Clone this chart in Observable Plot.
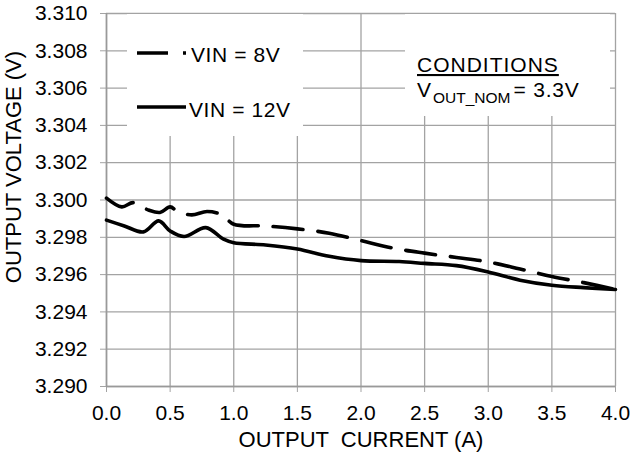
<!DOCTYPE html>
<html>
<head>
<meta charset="utf-8">
<script src="https://cdn.jsdelivr.net/npm/d3@7"></script>
<script src="https://cdn.jsdelivr.net/npm/@observablehq/plot@0.6"></script>
<style>
  html, body { margin: 0; padding: 0; background: white; }
  #chart { position: relative; width: 634px; height: 457px; }
</style>
</head>
<body>
<div id="chart"></div>
<script>
// ---- data ----
const current8 = [0, 0.12, 0.21, 0.33, 0.42, 0.50, 0.56, 0.67, 0.79, 0.91, 1.0, 1.25, 1.5, 1.75, 2.0, 2.25, 2.5, 2.75, 3.0, 3.25, 3.5, 3.75, 4.0];
const vout8    = [3.3001, 3.29963, 3.29986, 3.29946, 3.29933, 3.29963, 3.29938, 3.2992, 3.29938, 3.2992, 3.2987, 3.29861, 3.29845, 3.29822, 3.29782, 3.29742, 3.29715, 3.29692, 3.29668, 3.2963, 3.2959, 3.29557, 3.2952];
const current12 = [0, 0.14, 0.29, 0.41, 0.50, 0.61, 0.78, 0.92, 1.0, 1.25, 1.5, 1.75, 2.0, 2.3, 2.5, 2.75, 3.0, 3.25, 3.5, 3.75, 4.0];
const vout12    = [3.29892, 3.29861, 3.29829, 3.29888, 3.29834, 3.29804, 3.29852, 3.2979, 3.29771, 3.29759, 3.29737, 3.29698, 3.29675, 3.2967, 3.2966, 3.29648, 3.29614, 3.2957, 3.29543, 3.2953, 3.2952];
const xTicks = [0, 0.5, 1.0, 1.5, 2.0, 2.5, 3.0, 3.5, 4.0];
const yTicks = [3.290, 3.292, 3.294, 3.296, 3.298, 3.300, 3.302, 3.304, 3.306, 3.308, 3.310];
const seriesNames = ["VIN = 8V", "VIN = 12V"];
const xTitle = "OUTPUT  CURRENT (A)";
const yTitle = "OUTPUT VOLTAGE (V)";

const rows8 = current8.map((x, i) => ({x, y: vout8[i]}));
const rows12 = current12.map((x, i) => ({x, y: vout12[i]}));

const grid = "#a3a3a3";
const font = "'Liberation Sans', Arial, sans-serif";
const plot = Plot.plot({
  width: 634,
  height: 457,
  marginLeft: 106,
  marginRight: 19,
  marginTop: 13,
  marginBottom: 71,
  style: {fontFamily: font, fontSize: "21px", color: "black", background: "white", overflow: "visible"},
  x: {domain: [0, 4]},
  y: {domain: [3.290, 3.310]},
  marks: [
    Plot.gridX(xTicks, {stroke: grid, strokeOpacity: 1, strokeWidth: 1.3}),
    Plot.gridY(yTicks, {stroke: grid, strokeOpacity: 1, strokeWidth: 1.3}),
    Plot.axisX(xTicks, {tickFormat: d => d.toFixed(1), tickSize: 6, tickPadding: 13, stroke: grid, fill: "black", label: null, fontSize: 21}),
    Plot.axisY(yTicks, {tickFormat: d => d.toFixed(3), tickSize: 6, tickPadding: 13, stroke: grid, fill: "black", label: null, fontSize: 21}),
    Plot.ruleX([0], {stroke: "#999", strokeWidth: 1.6}),
    Plot.ruleY([3.290], {stroke: "#999", strokeWidth: 1.6}),
    Plot.line(rows8, {x: "x", y: "y", curve: "catmull-rom", stroke: "black", strokeWidth: 3.6, strokeDasharray: "30,15"}),
    Plot.line(rows12, {x: "x", y: "y", curve: "catmull-rom", stroke: "black", strokeWidth: 3.6}),
    Plot.text([xTitle], {frameAnchor: "bottom", dy: 60, text: d => d, fontSize: 22, fill: "black", textAnchor: "middle", style: "white-space:pre; letter-spacing:2.3px"}),
    Plot.text([yTitle], {frameAnchor: "left", dx: -93, dy: -33, rotate: -90, text: d => d, fontSize: 22, fill: "black", textAnchor: "middle", style: "letter-spacing:3.4px"})
  ]
});
document.getElementById("chart").appendChild(plot);

// ---- legend / annotation boxes ----
const svg = d3.select(plot);
const ann = svg.append("g").attr("font-family", font).attr("font-size", 21).attr("fill", "black").attr("text-anchor", "start");
ann.append("rect").attr("x", 127).attr("y", 14).attr("width", 176).attr("height", 122).attr("fill", "white");
ann.append("line").attr("x1", 137).attr("x2", 188).attr("y1", 53).attr("y2", 53)
  .attr("stroke", "black").attr("stroke-width", 3.6).attr("stroke-dasharray", "31,15,3");
ann.append("text").attr("x", 191).attr("y", 62).attr("letter-spacing", 0.6).text(seriesNames[0]);
ann.append("line").attr("x1", 137).attr("x2", 186).attr("y1", 107).attr("y2", 107)
  .attr("stroke", "black").attr("stroke-width", 3.6);
ann.append("text").attr("x", 189).attr("y", 117).attr("letter-spacing", 0.6).text(seriesNames[1]);

ann.append("rect").attr("x", 405).attr("y", 14).attr("width", 205).attr("height", 102).attr("fill", "white");
ann.append("text").attr("x", 417).attr("y", 72).attr("letter-spacing", 1).attr("text-decoration", "underline").text("CONDITIONS");
const t2 = ann.append("text").attr("x", 417).attr("y", 97);
t2.append("tspan").text("V");
t2.append("tspan").attr("font-size", 15.5).attr("dx", 2).attr("dy", 6).text("OUT_NOM");
t2.append("tspan").attr("dx", 3).attr("dy", -6).attr("letter-spacing", 0.8).text("= 3.3V");
</script>
</body>
</html>
